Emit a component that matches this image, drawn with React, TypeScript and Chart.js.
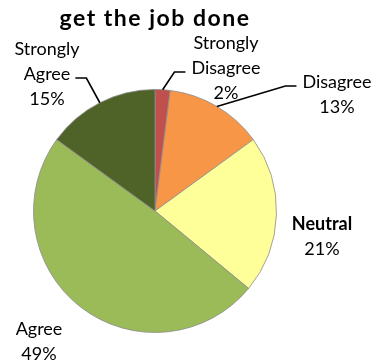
import React, { useEffect, useRef } from "react";
import { Chart, registerables } from "chart.js";

Chart.register(...registerables);

const chartTitle = "get the job done";
const categories = ["Strongly Disagree", "Disagree", "Neutral", "Agree", "Strongly Agree"];
const labelLines = [
  ["Strongly", "Disagree"],
  ["Disagree"],
  ["Neutral"],
  ["Agree"],
  ["Strongly", "Agree"],
];
const percentValues = [2, 13, 21, 49, 15];
const sliceColors = ["#C0504D", "#F79646", "#FFFF99", "#9BBB59", "#4F6228"];

// label placement relative to pie centre (px), line index the leader attaches to, side
const labelLayout = [
  { dx: 71, dy: -162, leader: 1, side: "left", boldName: false },
  { dx: 182, dy: -123, leader: 0, side: "left", boldName: false },
  { dx: 167, dy: 19, leader: -1, side: "none", boldName: true },
  { dx: -116, dy: 124, leader: -1, side: "none", boldName: false },
  { dx: -108, dy: -156, leader: 1, side: "right", boldName: false },
];

const FONT = "Lato, 'DejaVu Sans', sans-serif";

const titlePlugin = {
  id: "customTitle",
  afterDraw(chart: any) {
    const ctx = chart.ctx;
    const meta = chart.getDatasetMeta(0);
    const arc = meta.data[0];
    if (!arc) return;
    ctx.save();
    ctx.font = `bold 23px ${FONT}`;
    (ctx as any).letterSpacing = "1.5px";
    ctx.fillStyle = "#000";
    ctx.textAlign = "center";
    ctx.textBaseline = "alphabetic";
    ctx.fillText(chartTitle, arc.x, 26);
    ctx.restore();
  },
};

const labelPlugin = {
  id: "pieLabels",
  afterDraw(chart: any) {
    const ctx = chart.ctx;
    const meta = chart.getDatasetMeta(0);
    const lh = 25;
    ctx.save();
    ctx.fillStyle = "#000";
    ctx.strokeStyle = "#000";
    ctx.lineWidth = 1.6;
    ctx.textAlign = "center";
    ctx.textBaseline = "alphabetic";
    meta.data.forEach((arc: any, i: number) => {
      const { x, y, startAngle, endAngle, outerRadius } = arc.getProps(
        ["x", "y", "startAngle", "endAngle", "outerRadius"],
        true
      );
      const lay = labelLayout[i];
      const lines = [...labelLines[i], percentValues[i] + "%"];
      const cx = x + lay.dx;
      const by = y + lay.dy;
      lines.forEach((t, k) => {
        const bold = lay.boldName && k < lines.length - 1;
        ctx.font = `${bold ? "bold " : ""}18px ${FONT}`;
        ctx.fillText(t, cx, by + k * lh);
      });
      if (lay.leader >= 0) {
        ctx.font = `18px ${FONT}`;
        const mid = (startAngle + endAngle) / 2;
        const ex = x + outerRadius * Math.cos(mid);
        const ey = y + outerRadius * Math.sin(mid);
        const w = ctx.measureText(lines[lay.leader]).width;
        const ly = by + lay.leader * lh - 2;
        let endX: number, elbowX: number;
        if (lay.side === "left") {
          endX = cx - w / 2 - 6;
          elbowX = endX - 11;
        } else {
          endX = cx + w / 2 + 5;
          elbowX = endX + 11;
        }
        ctx.beginPath();
        ctx.moveTo(ex, ey);
        ctx.lineTo(elbowX, ly);
        ctx.lineTo(endX, ly);
        ctx.stroke();
      }
    });
    ctx.restore();
  },
};

export default function App() {
  const ref = useRef<HTMLCanvasElement>(null);
  useEffect(() => {
    if (!ref.current) return;
    const chart = new Chart(ref.current, {
      type: "pie",
      data: {
        labels: categories,
        datasets: [
          {
            data: percentValues,
            backgroundColor: sliceColors,
            borderColor: "rgba(140,140,140,0.8)",
            borderWidth: 1,
          },
        ],
      },
      options: {
        responsive: false,
        animation: false,
        layout: { padding: { left: 33, right: 101, top: 89, bottom: 29 } },
        plugins: {
          legend: { display: false },
          tooltip: { enabled: false },
          title: { display: false },
        },
      },
      plugins: [titlePlugin, labelPlugin],
    });
    return () => chart.destroy();
  }, []);
  return (
    <div style={{ position: "fixed", left: 0, top: 0, width: 378, height: 362, background: "#fff" }}>
      <canvas ref={ref} width={378} height={362} />
    </div>
  );
}
